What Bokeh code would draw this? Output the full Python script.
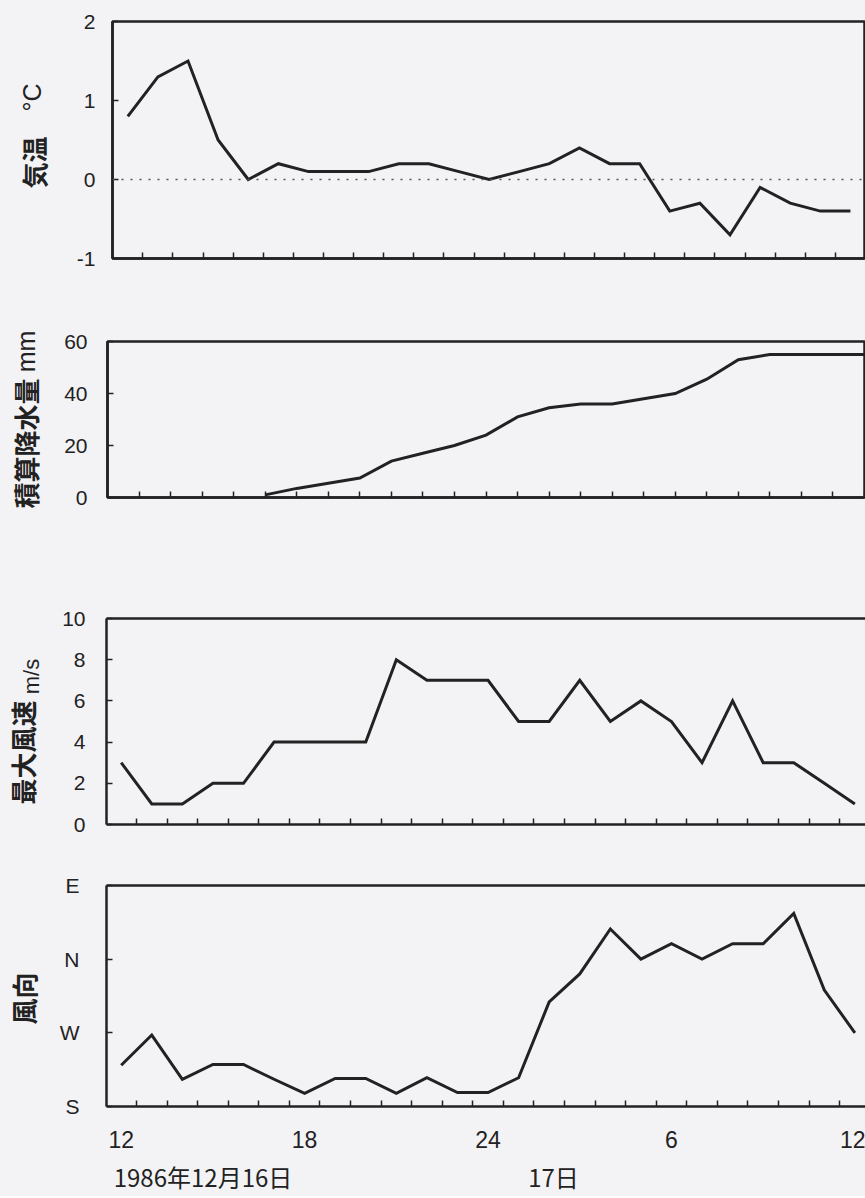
import math
from bokeh.plotting import figure
from bokeh.layouts import column, row
from bokeh.models import FixedTicker, Span, LinearAxis, Range1d
from bokeh.core.properties import value
from bokeh.embed import file_html
from bokeh.resources import INLINE

# ---------------- data ----------------
hours = list(range(12, 37))  # 1986-12-16 12h  ->  1986-12-17 12h
temperature = [0.8, 1.3, 1.5, 0.5, 0.0, 0.2, 0.1, 0.1, 0.1, 0.2, 0.2, 0.1, 0.0,
               0.1, 0.2, 0.4, 0.2, 0.2, -0.4, -0.3, -0.7, -0.1, -0.3, -0.4, -0.4]
nan = float("nan")
precip_cum = [nan, nan, nan, nan, nan, 1, 3.5, 5.5, 7.5, 14, 17, 20, 24,
              31, 34.5, 36, 36, 38, 40, 45.5, 53, 55, 55, 55, 55]
wind_max = [3, 1, 1, 2, 2, 4, 4, 4, 4, 8, 7, 7, 7, 5, 5, 7, 5, 6, 5, 3, 6, 3, 3, 2, 1]
# wind direction: 0 = S, 1 = W, 2 = N, 3 = E
wind_dir = [0.56, 0.97, 0.37, 0.57, 0.57, 0.37, 0.18, 0.38, 0.38, 0.18, 0.39, 0.19,
            0.19, 0.39, 1.42, 1.80, 2.41, 2.00, 2.21, 2.00, 2.21, 2.21, 2.62, 1.58, 1.00]
dir_labels = ["S", "W", "N", "E"]
x_tick_hours = [12, 18, 24, 30, 36]
x_tick_labels = ["12", "18", "24", "6", "12"]
date_hours = [14.676, 26.14]
date_labels = ["1986年12月16日", "17日"]
half_hours = [h + 0.5 for h in range(12, 36)]
full_hours = list(range(12, 37))

BG = "#f3f3f5"
INK = "#222222"
NUM_FONT = "Liberation Sans"
CJK_FONT = "Noto Sans CJK JP"
LW = 55            # width of the strip that carries the vertical titles
W = 865 - LW       # width of each chart


def style_axis(ax):
    ax.axis_line_width = 2.5
    ax.axis_line_color = INK
    ax.major_tick_in = 6
    ax.major_tick_out = 0
    ax.minor_tick_in = 0
    ax.minor_tick_out = 0
    ax.major_tick_line_width = 1.5
    ax.major_tick_line_color = INK
    ax.minor_tick_line_width = 1.5
    ax.minor_tick_line_color = INK
    ax.major_label_text_font = NUM_FONT
    ax.major_label_text_font_size = "21px"
    ax.major_label_text_color = INK


def blank_axis():
    a = LinearAxis(ticker=FixedTicker(ticks=[]))
    a.axis_line_width = 2.5
    a.axis_line_color = INK
    a.major_tick_in = 0
    a.major_tick_out = 0
    a.minor_tick_in = 0
    a.minor_tick_out = 0
    a.major_label_text_font_size = "0px"
    a.major_label_standoff = 0
    return a


def make_fig(height, xr, yr, bl, br, bt, bb, outline=True):
    p = figure(width=W, height=height, x_range=xr, y_range=yr,
               output_backend="svg", toolbar_location=None,
               min_border_left=bl, min_border_right=br,
               min_border_top=bt, min_border_bottom=bb,
               background_fill_color=BG, border_fill_color=BG)
    p.frame_align = False
    p.grid.visible = False
    if outline:
        p.outline_line_color = INK
        p.outline_line_width = 2.5
        p.outline_line_alpha = 1
    else:
        p.outline_line_color = None
        p.add_layout(blank_axis(), "above")
    xa = p.below[0]
    ya = p.left[0]
    style_axis(xa)
    style_axis(ya)
    return p, xa, ya


def title_strip(height, parts):
    """parts: (text, x_center_px, y_center_px_from_top, size, font, bold)"""
    t = figure(width=LW, height=height, x_range=Range1d(0, LW), y_range=Range1d(0, height),
               output_backend="svg", toolbar_location=None,
               min_border=0, x_axis_location=None, y_axis_location=None,
               background_fill_color=BG, border_fill_color=BG, outline_line_color=None)
    t.frame_align = False
    t.grid.visible = False
    for text, xc, yc, size, font, bold in parts:
        t.text(x=[xc], y=[height - yc], text=[text], angle=math.pi / 2,
               text_align="center", text_baseline="middle",
               text_font=value(font), text_font_size=value(size),
               text_font_style="bold" if bold else "normal", text_color=INK)
    return t


# ---- panel 1 : air temperature ----
H1 = 299
p1, x1, y1 = make_fig(H1, Range1d(11.492, 36.467), Range1d(-1, 2), 112 - LW, 1, 21, 41)
y1.ticker = FixedTicker(ticks=[-1, 0, 1, 2])
y1.major_label_overrides = {-1: "-1"}
y1.major_label_standoff = 17
x1.ticker = FixedTicker(ticks=[], minor_ticks=half_hours)
x1.minor_tick_in = 6
x1.major_label_text_font_size = "0px"
p1.add_layout(Span(location=0, dimension="width", line_color="#555555",
                   line_width=1.5, line_dash="2 7"))
p1.line(hours, temperature, line_color=INK, line_width=3, line_join="miter")
t1 = title_strip(H1, [("気温", 33, 162, "26px", CJK_FONT, True),
                      ("°C", 31, 97, "25px", NUM_FONT, False)])

# ---- panel 2 : cumulative precipitation ----
H2 = 258
p2, x2, y2 = make_fig(H2, Range1d(12, 36), Range1d(0, 60), 107 - LW, 1, 42, 60)
y2.ticker = FixedTicker(ticks=[0, 20, 40, 60])
y2.major_label_standoff = 20
x2.ticker = FixedTicker(ticks=[], minor_ticks=full_hours)
x2.minor_tick_in = 6
x2.major_label_text_font_size = "0px"
p2.line(hours, precip_cum, line_color=INK, line_width=3, line_join="miter")
t2 = title_strip(H2, [("積算降水量", 25, 144, "26px", CJK_FONT, True),
                      ("mm", 25, 52, "25px", NUM_FONT, False)])

# ---- panel 3 : maximum wind speed ----
H3 = 297
p3, x3, y3 = make_fig(H3, Range1d(11.519, 36.347), Range1d(0, 10), 106 - LW, 0, 61, 30, outline=False)
y3.ticker = FixedTicker(ticks=[0, 2, 4, 6, 8, 10])
y3.major_label_standoff = 21
x3.ticker = FixedTicker(ticks=[], minor_ticks=half_hours)
x3.minor_tick_in = 6
x3.major_label_text_font_size = "0px"
p3.line(hours, wind_max, line_color=INK, line_width=3, line_join="miter")
t3 = title_strip(H3, [("最大風速", 22, 195, "26px", CJK_FONT, True),
                      ("m/s", 31, 119, "22px", NUM_FONT, False)])

# ---- panel 4 : wind direction ----
H4 = 342
p4, x4, y4 = make_fig(H4, Range1d(11.519, 36.347), Range1d(0, 3), 106 - LW, 0, 31, 89, outline=False)
y4.ticker = FixedTicker(ticks=[0, 1, 2, 3])
y4.major_label_overrides = {i: t for i, t in enumerate(dir_labels)}
y4.major_label_standoff = 27
x4.ticker = FixedTicker(ticks=x_tick_hours, minor_ticks=half_hours)
x4.major_label_overrides = {h: t for h, t in zip(x_tick_hours, x_tick_labels)}
x4.major_tick_in = 0
x4.minor_tick_in = 6
x4.major_label_standoff = 24
x4.major_label_text_font_size = "23px"
date_axis = LinearAxis(ticker=FixedTicker(ticks=date_hours))
date_axis.major_label_overrides = {h: t for h, t in zip(date_hours, date_labels)}
date_axis.axis_line_color = None
date_axis.major_tick_in = 0
date_axis.major_tick_out = 0
date_axis.minor_tick_in = 0
date_axis.minor_tick_out = 0
date_axis.major_label_standoff = 8
date_axis.major_label_text_font = CJK_FONT
date_axis.major_label_text_font_size = "24px"
date_axis.major_label_text_color = INK
p4.add_layout(date_axis, "below")
p4.line(hours, wind_dir, line_color=INK, line_width=3, line_join="miter")
t4 = title_strip(H4, [("風向", 23, 144, "26px", CJK_FONT, True)])

layout = column(row(t1, p1, spacing=0), row(t2, p2, spacing=0),
                row(t3, p3, spacing=0), row(t4, p4, spacing=0),
                spacing=0, styles={"background-color": BG})
open("out.html", "w").write(file_html(layout, INLINE))
